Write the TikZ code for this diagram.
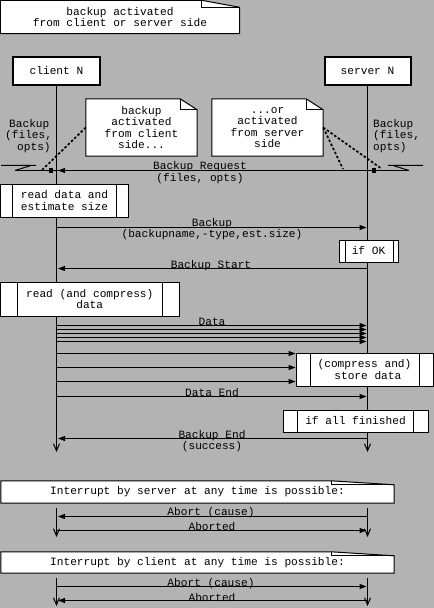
\documentclass[tikz,border=0pt]{standalone}
\usepackage{fontspec}
\setmainfont{Liberation Mono}
\usetikzlibrary{arrows.meta}
\definecolor{bgray}{RGB}{179,179,179}
\pgfdeclarelayer{back}
\pgfsetlayers{back,main}
\begin{document}
\begin{tikzpicture}[x=1bp,y=-1bp,
  every node/.style={font=\fontsize{11.2}{11.3}\selectfont, inner sep=0pt},
  thinl/.style={line width=1bp},
  msg/.style={thinl, -{Triangle[length=7bp,width=5bp]}},
  life/.style={thinl, -{Straight Barb[length=7bp,width=6bp]}},
  sq/.style={fill=black, minimum size=4bp, inner sep=0pt},
  dots/.style={line width=1.7bp, dash pattern=on 2.5bp off 2bp},
  notebg/.style={fill=white, draw=black, thinl},
  actor/.style={draw, line width=2bp, fill=white, minimum width=86bp, minimum height=28bp},
  proc/.style={draw, thinl, fill=white, align=center},
  note/.style={align=center},
  lbl/.style={align=center}
]
\begin{pgfonlayer}{back}
\fill[bgray] (0,0) rectangle (434,608);
\end{pgfonlayer}
\useasboundingbox (0,0) rectangle (434,608);

% ---------- notes ----------
\node[note, minimum width=239bp, minimum height=33bp] (top) at (120,17) {backup activated\\from client or server side};
\node[note, minimum width=111bp, minimum height=57bp] (cn) at (141.5,127.5) {backup\\activated\\from client\\side...};
\node[note, minimum width=111bp, minimum height=57bp] (sn) at (267.5,127.5) {...or\\activated\\from server\\side};
\node[note, minimum width=393bp, minimum height=22bp] (sv) at (197.5,492) {Interrupt by server at any time is possible:};
\node[note, minimum width=393bp, minimum height=21bp] (cv) at (197.5,562.5) {Interrupt by client at any time is possible:};

\begin{pgfonlayer}{back}
\foreach \n/\w/\h in {top/38/7, cn/17/11, sn/17/11, sv/63/4, cv/63/4}{
  \draw[notebg] (\n.south west) -- (\n.north west) -- ([xshift=-\w bp]\n.north east)
      -- ([yshift=-\h bp]\n.north east) -- (\n.south east) -- cycle;
  \draw[thinl] ([xshift=-\w bp]\n.north east) |- ([yshift=-\h bp]\n.north east);
}
\end{pgfonlayer}

% ---------- actors and lifelines ----------
\node[actor] (client) at (56.5,71) {client N};
\node[actor] (server) at (367.5,71) {server N};
\coordinate (cE) at (56.5,452);
\coordinate (sE) at (367.5,452);
\draw[life] (client.south) -- (cE);
\draw[life] (server.south) -- (sE);

\coordinate (c1a) at (56.5,508);  \coordinate (c1b) at (56.5,537);
\coordinate (s1a) at (367.5,508); \coordinate (s1b) at (367.5,537);
\coordinate (c2a) at (56.5,578);  \coordinate (c2b) at (56.5,606);
\coordinate (s2a) at (367.5,578); \coordinate (s2b) at (367.5,606);
\draw[life] (c1a) -- (c1b);
\draw[life] (s1a) -- (s1b);
\draw[life] (c2a) -- (c2b);
\draw[life] (s2a) -- (s2b);

% ---------- side labels ----------
\node[lbl, align=left, anchor=west] (bl) at (5,136) {\hspace*{4bp}Backup\\(files,\\\hspace*{12bp}opts)};
\node[lbl, align=left, anchor=west] (br) at (373,136) {Backup\\(files,\\opts)};

% ---------- dotted links ----------
\coordinate (dl) at (42,170);
\coordinate (dr1) at (343,169);
\coordinate (dr2) at (382,169);
\draw[dots] (cn.west) -- (dl);
\draw[dots] (sn.east) -- (dr1);
\draw[dots] (sn.east) -- (dr2);

% ---------- Backup Request ----------
\coordinate (rqL) at (15,170.5);   \coordinate (rqR) at (409,170.5);
\coordinate (rqLa) at (1,165.5);   \coordinate (rqLb) at (36,165.5);  \coordinate (rqLc) at (31,165.5);
\coordinate (rqRa) at (388,165.5); \coordinate (rqRb) at (423,165.5); \coordinate (rqRc) at (393,165.5);
\draw[thinl] (rqL) -- (rqR);
\draw[thinl] (rqLa) -- (rqLb) (rqLc) -- (rqL);
\draw[thinl] (rqRa) -- (rqRb) (rqRc) -- (rqR);
\coordinate (rqS) at (367.5,170.5);
\coordinate (rqC) at (58,170.5);
\draw[msg] (rqS) -- (rqC);
\node[sq] (q1) at (50.5,170.5) {};
\node[sq] (q2) at (374,170.5) {};
\node[lbl] (lrq) at (200,172.5) {Backup Request\\(files, opts)};

% ---------- process boxes ----------
\node[proc, minimum width=128bp, minimum height=33bp] (rd) at (64.5,200.5) {read data and\\estimate size};
\node[proc, minimum width=59bp, minimum height=22bp] (ok) at (368.5,251) {if OK};
\node[proc, minimum width=178.5bp, minimum height=34bp] (rc) at (89.75,299) {read (and compress)\\data};
\node[proc, minimum width=137bp, minimum height=33bp] (cmp) at (364.5,369.5) {(compress and)\\\hphantom{x}store data};
\node[proc, minimum width=145bp, minimum height=22bp] (af) at (355.5,421) {if all finished};
\foreach \n/\p/\q in {rd/12.5/12.5, ok/7/5, rc/17.5/17, cmp/15/14, af/15/15}{
  \draw[thinl] ([xshift=\p bp]\n.north west) -- ([xshift=\p bp]\n.south west);
  \draw[thinl] ([xshift=-\q bp]\n.north east) -- ([xshift=-\q bp]\n.south east);
}

% ---------- messages ----------
\coordinate (c227) at (56.5,227.5); \coordinate (s227) at (366.5,227.5);
\draw[msg] (c227) -- (s227);
\node[lbl] (lbk) at (212,229) {Backup\\(backupname,-type,est.size)};

\coordinate (s268) at (367.5,268.5); \coordinate (c268) at (58,268.5);
\draw[msg] (s268) -- (c268);
\node[lbl] (lbs) at (211,266) {Backup Start};

\foreach \y [count=\i] in {325,329,333,337,341}{
  \coordinate (cd\i) at (56.5,\y+0.5);
  \coordinate (sd\i) at (366.5,\y+0.5);
  \draw[msg] (cd\i) -- (sd\i);
}
\node[lbl] (ldata) at (212,322) {Data};

\foreach \y [count=\i] in {353,367,381}{
  \coordinate (ct\i) at (56.5,\y+0.5);
  \draw[msg] (ct\i) -- (ct\i -| cmp.west);
}

\coordinate (c396) at (56.5,396.5); \coordinate (s396) at (366.5,396.5);
\draw[msg] (c396) -- (s396);
\node[lbl] (lde) at (212,393) {Data End};

\coordinate (s438) at (367.5,438.5); \coordinate (c438) at (58,438.5);
\draw[msg] (s438) -- (c438);
\node[lbl] (lbe) at (212,441) {Backup End\\(success)};

\coordinate (s516) at (367.5,516.5); \coordinate (c516) at (58,516.5);
\draw[msg] (s516) -- (c516);
\node[lbl] (la1) at (211,513) {Abort (cause)};
\coordinate (c530) at (56.5,530.5); \coordinate (s530) at (366.5,530.5);
\draw[msg] (c530) -- (s530);
\node[lbl] (ld1) at (212,527) {Aborted};

\coordinate (c586) at (56.5,586.5); \coordinate (s586) at (366.5,586.5);
\draw[msg] (c586) -- (s586);
\node[lbl] (la2) at (211,584) {Abort (cause)};
\coordinate (s600) at (367.5,600.5); \coordinate (c600) at (58,600.5);
\draw[msg] (s600) -- (c600);
\node[lbl] (ld2) at (212,598) {Aborted};
\end{tikzpicture}
\end{document}
